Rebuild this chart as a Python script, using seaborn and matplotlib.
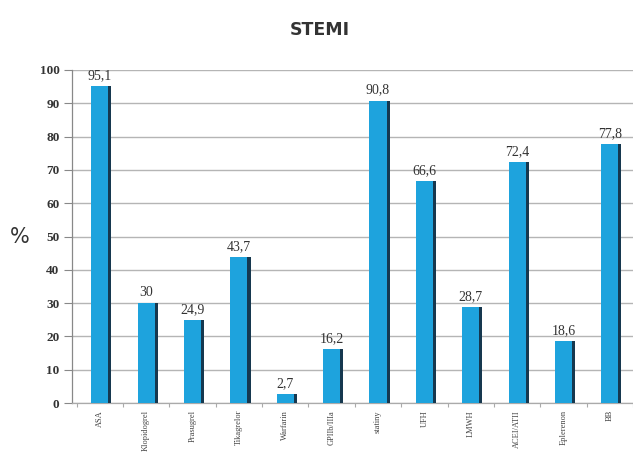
import matplotlib
matplotlib.use("Agg")
import matplotlib.pyplot as plt
import matplotlib.patheffects as pe
import numpy as np
import pandas as pd
import seaborn as sns

# STEMI: share of patients on each medication (%)
drugs = ["ASA", "Klopidogrel", "Prasugrel", "Tikagrelor", "Warfarin", "GPIIb/IIIa",
         "statiny", "UFH", "LMWH", "ACEI/ATII", "Eplerenon", "BB"]
percent = [95.1, 30, 24.9, 43.7, 2.7, 16.2, 90.8, 66.6, 28.7, 72.4, 18.6, 77.8]
value_labels = ["95,1", "30", "24,9", "43,7", "2,7", "16,2",
                "90,8", "66,6", "28,7", "72,4", "18,6", "77,8"]
y_ticks = list(range(0, 101, 10))

df = pd.DataFrame({"drug": drugs, "percent": percent})

sns.set_theme(style="white")
plt.rcParams["font.family"] = ["DejaVu Sans"]

fig = plt.figure(figsize=(6.33, 4.53), dpi=100)
ax = fig.add_axes([72 / 633, 50 / 453, 561 / 633, 333 / 453])

sns.barplot(data=df, x="drug", y="percent", color="#1ea3dd", width=0.37,
            saturation=1, ax=ax, zorder=3)
# dark edge on the right side of every bar
for p in ax.patches:
    p.set_linewidth(0)
    p.set_path_effects([
        pe.SimplePatchShadow(offset=(2.2, 0), shadow_rgbFace="#16384f", alpha=1.0),
        pe.Normal(),
    ])

ax.set_xlim(-0.6, 11.46)
ax.set_ylim(0, 100)
ax.set_yticks(y_ticks)
ax.set_yticklabels([str(t) for t in y_ticks], family="Liberation Serif",
                   fontsize=9.5, fontweight="bold", color="#333333")
ax.yaxis.grid(True, color="#b5b5b5", linewidth=1.0, zorder=0)
ax.set_axisbelow(True)
ax.tick_params(axis="y", which="major", length=6, width=0.8, color="#888888",
               left=True, pad=3)

ax.set_xticks(range(len(drugs)))
ax.set_xticklabels(drugs, rotation=90, family="Liberation Serif", fontsize=6,
                   color="#444444", va="top")
ax.tick_params(axis="x", which="major", length=0, pad=5)
ax.set_xticks(np.arange(-0.5, len(drugs), 1.0), minor=True)
ax.tick_params(axis="x", which="minor", length=3, width=0.8, color="#aaaaaa", bottom=True)

ax.set_xlabel("")
ax.set_ylabel("")
for side in ["top", "right"]:
    ax.spines[side].set_visible(False)
ax.spines["left"].set_color("#888888")
ax.spines["left"].set_linewidth(0.9)
ax.spines["bottom"].set_color("#aaaaaa")
ax.spines["bottom"].set_linewidth(0.9)

for i, (v, lab) in enumerate(zip(percent, value_labels)):
    ax.annotate(lab, (i, v), xytext=(0, 3), textcoords="offset points",
                ha="center", va="bottom", family="Liberation Serif",
                fontsize=10, color="#333333")

fig.text(320 / 633, 1 - 30 / 453, "STEMI", ha="center", va="center",
         fontsize=12.5, fontweight="bold", color="#333333")
fig.text(20 / 633, 1 - 237 / 453, "%", ha="center", va="center",
         fontsize=15, color="#333333")

fig.savefig("out.png", dpi=100, facecolor="white")
